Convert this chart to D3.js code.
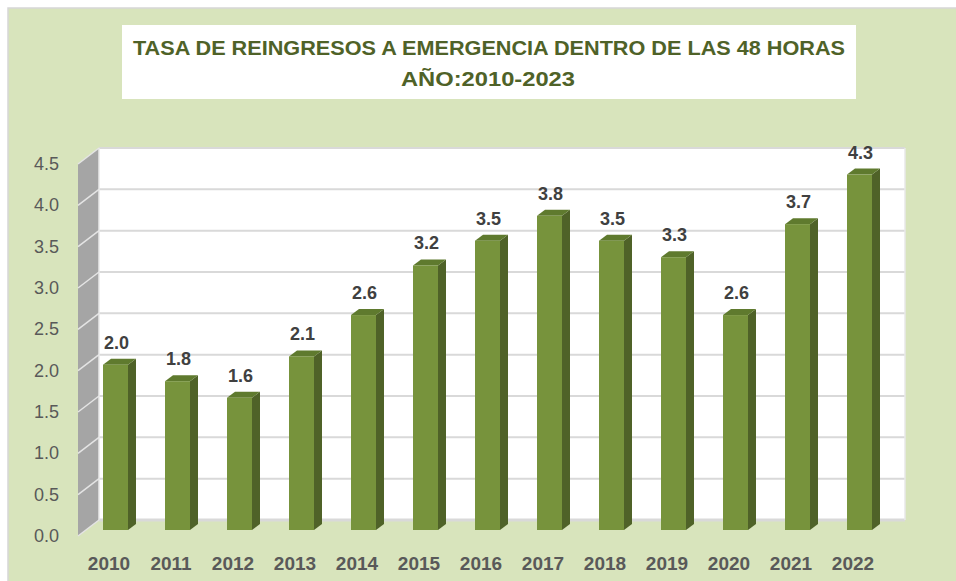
<!DOCTYPE html>
<html>
<head>
<meta charset="utf-8">
<script src="https://cdn.jsdelivr.net/npm/d3@7"></script>
<style>
  html, body { margin: 0; padding: 0; background: #fff; }
  svg { display: block; }
</style>
</head>
<body>
<div id="chart"></div>
<script>
// data
const years = ["2010", "2011", "2012", "2013", "2014", "2015", "2016", "2017", "2018", "2019", "2020", "2021", "2022"];
const rates = [2.0, 1.8, 1.6, 2.1, 2.6, 3.2, 3.5, 3.8, 3.5, 3.3, 2.6, 3.7, 4.3];
const yTicks = [0, 0.5, 1.0, 1.5, 2.0, 2.5, 3.0, 3.5, 4.0, 4.5];
const titleLines = ["TASA DE REINGRESOS A EMERGENCIA DENTRO DE LAS 48 HORAS", "AÑO:2010-2023"];

function drawChart() {
  const W = 956, H = 581;
  const svg = d3.select("#chart").append("svg").attr("width", W).attr("height", H);

  // fond
  svg.append("rect").attr("x", 8).attr("y", 8).attr("width", W).attr("height", H)
    .attr("fill", "#d8e4bc").attr("stroke", "#d6d6d6").attr("stroke-width", 1.5);

  // titre
  svg.append("rect").attr("x", 122).attr("y", 25).attr("width", 734).attr("height", 74).attr("fill", "#fff");
  const title = svg.append("g").style("font-family", "'Liberation Sans Narrow', 'Liberation Sans', Arial, sans-serif")
    .style("font-weight", "bold").style("font-size", "21px").attr("fill", "#4f6228").attr("text-anchor", "middle");
  title.append("text").attr("x", 489).attr("y", 55).attr("textLength", 712).attr("lengthAdjust", "spacingAndGlyphs").text(titleLines[0]);
  title.append("text").attr("x", 488).attr("y", 86).attr("textLength", 174).attr("lengthAdjust", "spacingAndGlyphs").text(titleLines[1]);

  // échelles (plan avant)
  const depth = { dx: 21, dy: -16 };
  const bar = { dx: 6.5, dy: -6, w: 25, d: 8, dd: -6 };
  const x = d3.scaleBand().domain(years).range([78, 884]).padding(0);
  const y = d3.scaleLinear().domain([0, 4.5]).range([536, 164]);

  // mur du fond
  svg.append("rect").attr("x", 78 + depth.dx).attr("y", y(4.5) + depth.dy)
    .attr("width", 884 - 78).attr("height", y(0) - y(4.5)).attr("fill", "#fff");
  // mur de gauche
  svg.append("path")
    .attr("d", `M78,${y(0)} L${78 + depth.dx},${y(0) + depth.dy} L${78 + depth.dx},${y(4.5) + depth.dy} L78,${y(4.5)} Z`)
    .attr("fill", "#a5a5a5");

  // grille
  yTicks.forEach((t) => {
    const yb = y(t) + depth.dy;
    svg.append("line").attr("x1", 78 + depth.dx).attr("x2", 884 + depth.dx).attr("y1", yb).attr("y2", yb)
      .attr("stroke", "#d9d9d9").attr("stroke-width", t === 0 ? 3 : 2);
    svg.append("line").attr("x1", 78).attr("x2", 78 + depth.dx).attr("y1", y(t)).attr("y2", yb)
      .attr("stroke", "#e4e4e4").attr("stroke-width", 1.5);
  });
  svg.append("line").attr("x1", 78 + depth.dx).attr("x2", 78 + depth.dx).attr("y1", y(4.5) + depth.dy).attr("y2", y(0) + depth.dy)
    .attr("stroke", "#e8e8e8").attr("stroke-width", 1.5);
  svg.append("line").attr("x1", 884 + depth.dx).attr("x2", 884 + depth.dx).attr("y1", y(4.5) + depth.dy).attr("y2", y(0) + depth.dy)
    .attr("stroke", "#e8e8e8").attr("stroke-width", 1.5);

  // barres
  const g = svg.append("g");
  years.forEach((yr, i) => {
    const v = rates[i];
    const x0 = x(yr) + x.bandwidth() / 2 + bar.dx - bar.w / 2;
    const x1 = x0 + bar.w;
    const yb = y(0) + bar.dy;
    const yt = y(v) + bar.dy;
    // côté
    g.append("path").attr("d", `M${x1},${yb} L${x1 + bar.d},${yb + bar.dd} L${x1 + bar.d},${yt + bar.dd} L${x1},${yt} Z`)
      .attr("fill", "#4f6228");
    // dessus
    g.append("path").attr("d", `M${x0},${yt} L${x0 + bar.d},${yt + bar.dd} L${x1 + bar.d},${yt + bar.dd} L${x1},${yt} Z`)
      .attr("fill", "#5f7a2e");
    // face
    g.append("rect").attr("x", x0).attr("y", yt).attr("width", bar.w).attr("height", yb - yt).attr("fill", "#77933c");
    // étiquette
    g.append("text").attr("x", x0 + bar.w / 2 + 1).attr("y", yt + bar.dd - 10)
      .attr("text-anchor", "middle").style("font-family", "'Liberation Sans', Arial, sans-serif")
      .style("font-weight", "bold").style("font-size", "18px").attr("fill", "#404040")
      .text(d3.format(".1f")(v));
  });

  // axes
  const yAxis = svg.append("g").style("font-family", "'Liberation Sans', Arial, sans-serif")
    .style("font-size", "18px").attr("fill", "#595959");
  yTicks.forEach((t) => {
    yAxis.append("text").attr("x", 59).attr("y", y(t) + 6).attr("text-anchor", "end").text(d3.format(".1f")(t));
  });
  const xAxis = svg.append("g").style("font-family", "'Liberation Sans', Arial, sans-serif")
    .style("font-weight", "bold").style("font-size", "19px").attr("fill", "#595959");
  years.forEach((yr) => {
    xAxis.append("text").attr("x", x(yr) + x.bandwidth() / 2).attr("y", 570).attr("text-anchor", "middle").text(yr);
  });
}

drawChart();
</script>
</body>
</html>
